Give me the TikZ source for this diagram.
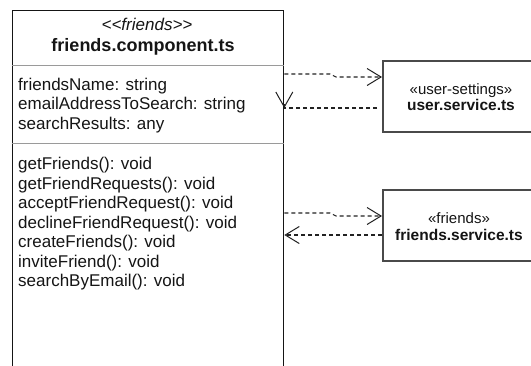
\documentclass[tikz,border=0pt]{standalone}
\usepackage{fontspec}
\setmainfont{Liberation Sans}
\usetikzlibrary{arrows.meta}
\definecolor{ink}{HTML}{151515}
\definecolor{sepgray}{HTML}{9A9A9A}
\definecolor{boxgray}{HTML}{4A4A4A}
\definecolor{dashgray}{HTML}{222222}
\begin{document}
\begin{tikzpicture}[x=1pt,y=-1pt,
  classbox/.style={draw=ink, line width=1.3pt, inner sep=0pt, anchor=north west},
  svcbox/.style={draw=boxgray, line width=1.7pt, inner sep=0pt, anchor=north west, minimum width=160pt, minimum height=71pt},
  sepline/.style={draw=sepgray, line width=1pt},
  member/.style={inner sep=0pt, anchor=base west, text=ink, font=\fontsize{17}{20}\selectfont},
  stereo/.style={inner sep=0pt, anchor=base, text=ink, font=\fontsize{17}{20}\selectfont\itshape},
  ctitle/.style={inner sep=0pt, anchor=base, text=ink, font=\fontsize{18}{21}\selectfont\bfseries},
  sstereo/.style={inner sep=0pt, anchor=base, text=ink, font=\fontsize{15}{18}\selectfont},
  stitle/.style={inner sep=0pt, anchor=base, text=ink, font=\fontsize{15.5}{18}\selectfont\bfseries},
  depline/.style={draw=dashgray, line width=1.1pt, dash pattern=on 4pt off 3pt},
  openhead/.style={-{Straight Barb[length=14pt,width=17pt,line width=1pt]}},
  vhead/.style={draw=dashgray, line width=1.1pt, solid, -{Straight Barb[length=15pt,width=17pt,line width=1pt]}}
]
\useasboundingbox (0,0) rectangle (531,365);
\clip (0,0) rectangle (531,365);
\fill[white] (0,0) rectangle (531,365);

% main class
\node[classbox, minimum width=271.5pt, minimum height=420pt] (main) at (11.5,10) {};
\node[stereo] (mst) at (147,30) {<{}<friends>{}>};
\node[ctitle] (mtt) at (143,51) {friends.component.ts};
\coordinate (s1) at (0,65);
\coordinate (s2) at (0,143);
\draw[sepline] (main.west |- s1) -- (main.east |- s1);
\draw[sepline] (main.west |- s2) -- (main.east |- s2);

\node[member] (a1) at (18,90) {friendsName: string};
\node[member] (a2) at (18,109.5) {emailAddressToSearch: string};
\node[member] (a3) at (18,129) {searchResults: any};

\node[member] (m1) at (18,169.5) {getFriends(): void};
\node[member] (m2) at (18,189) {getFriendRequests(): void};
\node[member] (m3) at (18,208.5) {acceptFriendRequest(): void};
\node[member] (m4) at (18,228) {declineFriendRequest(): void};
\node[member] (m5) at (18,247.5) {createFriends(): void};
\node[member] (m6) at (18,267) {inviteFriend(): void};
\node[member] (m7) at (18,286.5) {searchByEmail(): void};

% services
\node[svcbox] (usvc) at (382,60) {};
\node[sstereo] (ust) at (461,94) {«user-settings»};
\node[stitle] (utt) at (461,110) {user.service.ts};

\node[svcbox] (fsvc) at (382,189) {};
\node[sstereo] (fst) at (459,223) {«friends»};
\node[stitle] (ftt) at (459,240) {friends.service.ts};

% user.service connectors
\coordinate (uk1) at (330,74);
\coordinate (uk2) at (336,77);
\draw[depline, openhead] (main.east |- uk1) -- (uk1) -- (uk2) -- (usvc.west |- uk2);
\coordinate (ul) at (377,108);
\coordinate (uv) at (0,104);
\draw[depline] (ul) -- (main.east |- ul);
\draw[vhead] (main.east |- uv) -- (main.east |- ul);

% friends.service connectors
\coordinate (fk1) at (330,213);
\coordinate (fk2) at (336,216);
\draw[depline, openhead] (main.east |- fk1) -- (fk1) -- (fk2) -- (fsvc.west |- fk2);
\coordinate (fl) at (0,235);
\draw[depline, openhead] (fsvc.west |- fl) -- (main.east |- fl);
\end{tikzpicture}
\end{document}
